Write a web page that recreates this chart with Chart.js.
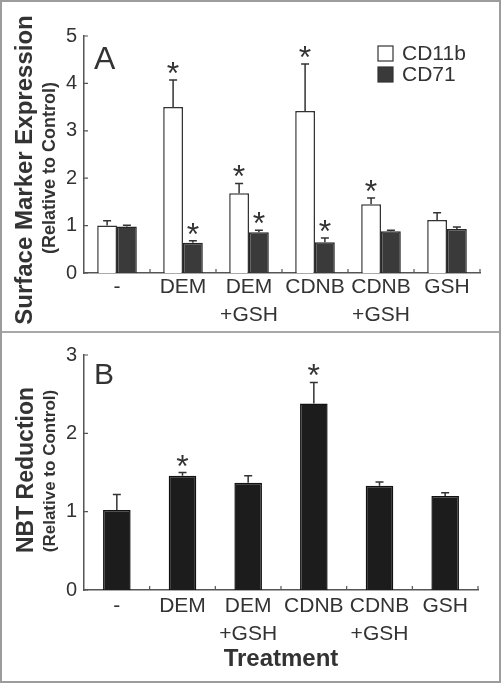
<!DOCTYPE html>
<html><head><meta charset="utf-8">
<script src="https://cdn.jsdelivr.net/npm/chart.js@4/dist/chart.umd.min.js"></script>
<style>
html,body{margin:0;padding:0;background:#fff;}
#wrap{position:relative;width:501px;height:683px;overflow:hidden;background:#fff;}
#ca{position:absolute;left:0;top:0;width:501px;height:333px;}
#cb{position:absolute;left:0;top:333px;width:501px;height:350px;}
.frame{position:absolute;left:0;top:0;width:501px;height:683px;box-sizing:border-box;border:2px solid #9c9c9c;pointer-events:none;}
.sep{position:absolute;left:0;top:331px;width:501px;height:2px;background:#a8a8a8;}
</style></head>
<body>
<div id="wrap">
<canvas id="ca" width="501" height="333"></canvas>
<canvas id="cb" width="501" height="350"></canvas>
<div class="sep"></div>
<div class="frame"></div>
</div>
<script>
const categories = [['-'], ['DEM'], ['DEM', '+GSH'], ['CDNB'], ['CDNB', '+GSH'], ['GSH']];
const cd11b    = [1.00, 3.50, 1.68, 3.42, 1.45, 1.12];
const cd11bErr = [0.10, 0.57, 0.21, 0.99, 0.13, 0.15];
const cd11bSig = [false, true, true, true, true, false];
const cd71     = [0.98, 0.64, 0.86, 0.65, 0.88, 0.93];
const cd71Err  = [0.03, 0.04, 0.04, 0.09, 0.02, 0.04];
const cd71Sig  = [false, true, true, true, false, false];
const nbt      = [1.02, 1.46, 1.37, 2.38, 1.33, 1.20];
const nbtErr   = [0.20, 0.04, 0.09, 0.27, 0.05, 0.04];
const nbtSig   = [false, true, false, true, false, false];
const yTicksA  = [0, 1, 2, 3, 4, 5];
const yTicksB  = [0, 1, 2, 3];
const seriesNames = ['CD11b', 'CD71'];

const FONT = '"Liberation Sans", Arial, Helvetica, sans-serif';
const TXT = '#333333';
const AX = '#555555';

function errPlugin(errs, sigs) {
  return {
    id: 'errbars',
    afterDatasetsDraw(chart) {
      const ctx = chart.ctx;
      const ys = chart.scales.y;
      chart.data.datasets.forEach((ds, di) => {
        const meta = chart.getDatasetMeta(di);
        meta.data.forEach((el, i) => {
          const v = ds.data[i];
          const e = errs[di][i];
          const yTop = ys.getPixelForValue(v + e);
          const yBar = ys.getPixelForValue(v);
          ctx.save();
          ctx.strokeStyle = '#333';
          ctx.lineWidth = 1.5;
          ctx.beginPath();
          ctx.moveTo(el.x, yBar);
          ctx.lineTo(el.x, yTop);
          ctx.moveTo(el.x - 4, yTop);
          ctx.lineTo(el.x + 4, yTop);
          ctx.stroke();
          if (sigs[di][i]) {
            ctx.fillStyle = TXT;
            ctx.font = '32px ' + FONT;
            ctx.textAlign = 'center';
            ctx.textBaseline = 'alphabetic';
            ctx.fillText('*', el.x, yTop + 4);
          }
          ctx.restore();
        });
      });
    }
  };
}

function decoPlugin(cfg) {
  return {
    id: 'deco',
    afterDraw(chart) {
      const ctx = chart.ctx;
      const xs = chart.scales.x, ys = chart.scales.y;
      const ca = chart.chartArea;
      ctx.save();
      ctx.strokeStyle = AX;
      ctx.lineWidth = 1.2;
      ctx.beginPath();
      ys.ticks.forEach(t => {
        const y = ys.getPixelForValue(t.value);
        ctx.moveTo(ca.left, y); ctx.lineTo(ca.left + 4, y);
      });
      const n = xs.ticks.length;
      const step = xs.getPixelForTick(1) - xs.getPixelForTick(0);
      for (let i = 0; i < n; i++) {
        const x = xs.getPixelForTick(i) + step / 2;
        ctx.moveTo(x, ca.bottom); ctx.lineTo(x, ca.bottom - 4);
      }
      ctx.stroke();
      // panel letter
      ctx.fillStyle = TXT;
      ctx.textAlign = 'left';
      ctx.textBaseline = 'alphabetic';
      ctx.font = cfg.letterSize + 'px ' + FONT;
      ctx.fillText(cfg.letter, cfg.letterX, cfg.letterY);
      // y titles
      ctx.textAlign = 'center';
      ctx.textBaseline = 'middle';
      ctx.save();
      ctx.translate(cfg.t1x, cfg.t1y);
      ctx.rotate(-Math.PI / 2);
      ctx.font = 'bold ' + cfg.t1size + 'px ' + FONT;
      ctx.fillText(cfg.t1, 0, 0);
      ctx.restore();
      ctx.save();
      ctx.translate(cfg.t2x, cfg.t2y);
      ctx.rotate(-Math.PI / 2);
      ctx.font = 'bold ' + cfg.t2size + 'px ' + FONT;
      ctx.fillText(cfg.t2, 0, 0);
      ctx.restore();
      // legend
      if (cfg.legend) {
        chart.data.datasets.forEach((ds, di) => {
          const y0 = cfg.legend.y + di * 21;
          ctx.fillStyle = ds.backgroundColor;
          ctx.strokeStyle = '#333';
          ctx.lineWidth = 1.2;
          ctx.fillRect(cfg.legend.x, y0, 15, 15);
          ctx.strokeRect(cfg.legend.x, y0, 15, 15);
          ctx.fillStyle = TXT;
          ctx.textAlign = 'left';
          ctx.textBaseline = 'middle';
          ctx.font = '21px ' + FONT;
          ctx.fillText(ds.label, cfg.legend.x + 24, y0 + 8);
        });
      }
      ctx.restore();
    }
  };
}

function baseScales(yTicks, ymax, xHeight, title, pad) {
  return {
    x: {
      grid: { display: false, drawTicks: false },
      border: { display: true, color: AX, width: 1.5 },
      ticks: { font: { family: FONT, size: 21, lineHeight: 1.35 }, color: TXT, padding: pad, autoSkip: false, maxRotation: 0 },
      title: title ? { display: true, text: title, color: TXT, font: { family: FONT, size: 24, weight: 'bold' }, padding: { top: 0, bottom: 9 } } : { display: false },
      afterFit: s => { s.height = xHeight; s.paddingLeft = 0; s.paddingRight = 0; }
    },
    y: {
      min: 0, max: ymax,
      afterBuildTicks: s => { s.ticks = yTicks.map(v => ({ value: v })); },
      grid: { display: false, drawTicks: false },
      border: { display: true, color: AX, width: 1.5 },
      ticks: { font: { family: FONT, size: 20 }, color: TXT, padding: 7 },
      afterFit: s => { s.width = 84; s.paddingTop = 0; s.paddingBottom = 0; }
    }
  };
}

new Chart(document.getElementById('ca'), {
  type: 'bar',
  data: {
    labels: categories,
    datasets: [
      { label: seriesNames[0], data: cd11b, backgroundColor: '#ffffff', borderColor: '#333333', borderWidth: 1.5, categoryPercentage: 0.6, barPercentage: 1.0 },
      { label: seriesNames[1], data: cd71, backgroundColor: '#3a3a3a', borderColor: '#262626', borderWidth: 1.5, categoryPercentage: 0.6, barPercentage: 1.0 }
    ]
  },
  options: {
    responsive: false, animation: false,
    layout: { padding: { left: 0, right: 21, top: 36, bottom: 0 } },
    plugins: { legend: { display: false }, tooltip: { enabled: false } },
    scales: baseScales(yTicksA, 5, 60, null, 0)
  },
  plugins: [errPlugin([cd11bErr, cd71Err], [cd11bSig, cd71Sig]), decoPlugin({
    letter: 'A', letterSize: 32, letterX: 94, letterY: 69,
    t1: 'Surface Marker Expression', t1size: 24, t1x: 25, t1y: 170,
    t2: '(Relative to Control)', t2size: 18, t2x: 50, t2y: 168,
    legend: { x: 378, y: 46 }
  })]
});

new Chart(document.getElementById('cb'), {
  type: 'bar',
  data: {
    labels: categories,
    datasets: [
      { label: 'NBT', data: nbt, backgroundColor: '#1c1c1c', borderColor: '#111111', borderWidth: 1.5, categoryPercentage: 1.0, barPercentage: 0.42 }
    ]
  },
  options: {
    responsive: false, animation: false,
    layout: { padding: { left: 0, right: 23, top: 22, bottom: 0 } },
    plugins: { legend: { display: false }, tooltip: { enabled: false } },
    scales: baseScales(yTicksB, 3, 93, 'Treatment', 2)
  },
  plugins: [errPlugin([nbtErr], [nbtSig]), decoPlugin({
    letter: 'B', letterSize: 30, letterX: 94, letterY: 51,
    t1: 'NBT Reduction', t1size: 23, t1x: 27, t1y: 137,
    t2: '(Relative to Control)', t2size: 17, t2x: 50, t2y: 138,
    legend: null
  })]
});
</script>
</body></html>
